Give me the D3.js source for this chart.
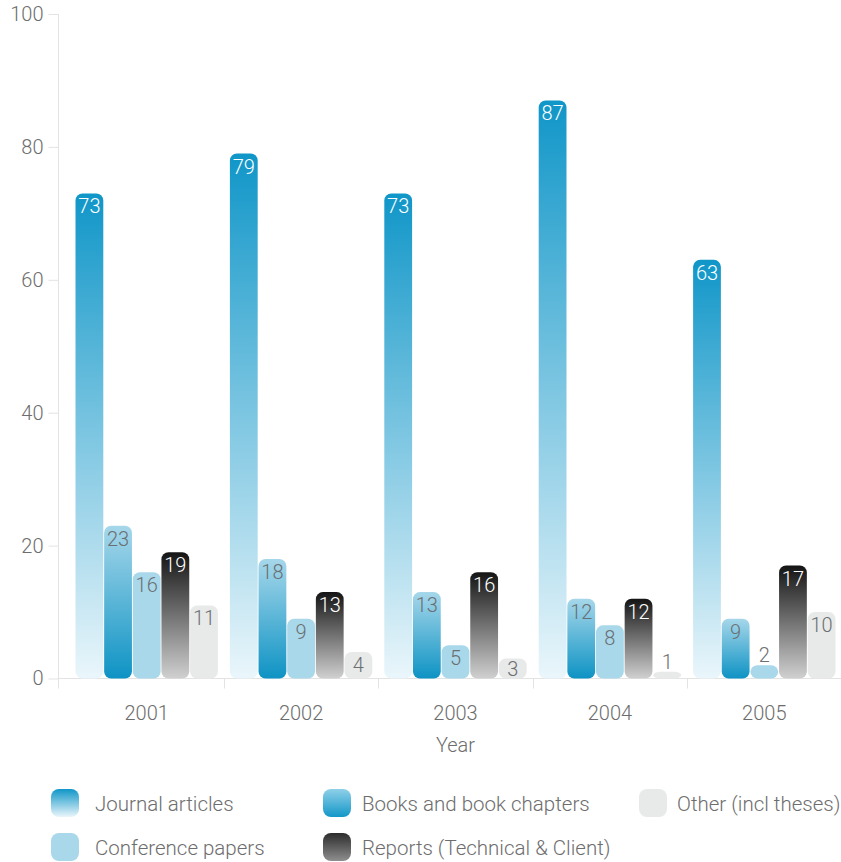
<!DOCTYPE html>
<html>
<head>
<meta charset="utf-8">
<script src="https://cdn.jsdelivr.net/npm/d3@7"></script>
<style>
  body { margin: 0; background: #fff; }
  svg text { font-family: Roboto, "Liberation Sans", sans-serif; font-weight: 300; }
</style>
</head>
<body>
<svg id="chart" width="841" height="862"></svg>
<script>
const years = ['2001', '2002', '2003', '2004', '2005'];
const seriesNames = ['Journal articles', 'Books and book chapters', 'Conference papers',
  'Reports (Technical & Client)', 'Other (incl theses)'];
const journal = [73, 79, 73, 87, 63];
const books = [23, 18, 13, 12, 9];
const conference = [16, 9, 5, 8, 2];
const reports = [19, 13, 16, 12, 17];
const other = [11, 4, 3, 1, 10];
const yTicks = [0, 20, 40, 60, 80, 100];

const seriesValues = [journal, books, conference, reports, other];
const keys = ['journal', 'books', 'conference', 'reports', 'other'];

// fill per series: gradient stops (top -> bottom)
const fills = {
  journal: ['#1096c8', '#eaf6fb'],
  books: ['#a6d7ea', '#0e93c4'],
  conference: ['#a8d8ea', '#a8d8ea'],
  reports: ['#141414', '#d0d0d0'],
  other: ['#e8e9e9', '#e8e9e9']
};
const labelColor = { journal: '#fff', books: '#6b6f72', conference: '#6b6f72', reports: '#fff', other: '#6b6f72' };

const svg = d3.select('#chart');
const margin = { left: 58.5, top: 14, base: 678.5 };

const defs = svg.append('defs');
function addGradient(id, stops) {
  const g = defs.append('linearGradient').attr('id', id)
    .attr('x1', 0).attr('y1', 0).attr('x2', 0).attr('y2', 1);
  g.append('stop').attr('offset', '0%').attr('stop-color', stops[0]);
  g.append('stop').attr('offset', '100%').attr('stop-color', stops[1]);
}
keys.forEach(k => addGradient('grad-' + k, fills[k]));
addGradient('grad-legend-reports', ['#2c2c2c', '#8e8e8e']);
addGradient('grad-legend-books', ['#8fd0e8', '#1397c8']);

const x0 = d3.scaleBand().domain(years).range([69.5, 841.5]);
const x1 = d3.scaleBand().domain(keys).range([6, x0.bandwidth() - 6]).paddingInner(0.03);
const y = d3.scaleLinear().domain([0, 100]).range([margin.base, margin.top]);

// y axis
const yAxis = svg.append('g')
  .attr('transform', `translate(${margin.left},0)`)
  .call(d3.axisLeft(y).tickValues(yTicks).tickSize(10).tickPadding(5).tickSizeOuter(0));
yAxis.select('.domain').remove();
yAxis.selectAll('line').attr('stroke', '#e3e3e3');
yAxis.selectAll('text').attr('fill', '#6d6d6d').style('font-size', '20px');
svg.append('line')
  .attr('x1', margin.left).attr('x2', margin.left)
  .attr('y1', y(100)).attr('y2', margin.base + 10)
  .attr('stroke', '#e3e3e3');

// x axis
svg.append('line')
  .attr('x1', margin.left).attr('x2', 841)
  .attr('y1', margin.base).attr('y2', margin.base)
  .attr('stroke', '#e3e3e3');
svg.selectAll('.sep').data(years.slice(1)).enter().append('line')
  .attr('x1', d => Math.round(x0(d)) + 0.5).attr('x2', d => Math.round(x0(d)) + 0.5)
  .attr('y1', margin.base).attr('y2', margin.base + 10)
  .attr('stroke', '#e3e3e3');
const xAxis = svg.append('g')
  .attr('transform', `translate(0,${margin.base})`)
  .call(d3.axisBottom(x0).tickSize(0).tickPadding(0));
xAxis.select('.domain').remove();
xAxis.selectAll('text').attr('dy', null).attr('y', 41)
  .attr('fill', '#6d6d6d').style('font-size', '20px');

svg.append('text')
  .attr('x', (x0.range()[0] + x0.range()[1]) / 2).attr('y', 752)
  .attr('text-anchor', 'middle').attr('fill', '#6d6d6d')
  .style('font-size', '20px').text('Year');

// bars
const groups = svg.selectAll('.year').data(years).enter().append('g')
  .attr('transform', d => `translate(${x0(d)},0)`);

groups.each(function (yr, i) {
  const g = d3.select(this);
  const items = keys.map((k, s) => ({ key: k, value: seriesValues[s][i] }));
  g.selectAll('rect').data(items).enter().append('rect')
    .attr('x', d => x1(d.key))
    .attr('width', x1.bandwidth())
    .attr('y', d => y(d.value))
    .attr('height', d => y(0) - y(d.value))
    .attr('rx', 7).attr('ry', 7)
    .attr('fill', d => `url(#grad-${d.key})`);

  g.selectAll('text.val').data(items).enter().append('text')
    .attr('class', 'val')
    .attr('x', d => x1(d.key) + x1.bandwidth() / 2)
    .attr('y', d => {
      const top = y(d.value), h = y(0) - top;
      return h >= 18 ? Math.min(top + 20, margin.base - 3) : top - 3;
    })
    .attr('text-anchor', 'middle')
    .attr('fill', d => {
      const h = y(0) - y(d.value);
      return h >= 18 ? labelColor[d.key] : '#6b6f72';
    })
    .style('font-size', '20px')
    .text(d => d.value);
});

// legend
const legendPos = [
  { key: 'journal', x: 51, tx: 95, y: 803, fill: 'grad-journal' },
  { key: 'books', x: 323, tx: 362, y: 803, fill: 'grad-legend-books' },
  { key: 'other', x: 639, tx: 677, y: 803, fill: 'grad-other' },
  { key: 'conference', x: 51, tx: 95, y: 847, fill: 'grad-conference' },
  { key: 'reports', x: 323, tx: 362, y: 847, fill: 'grad-legend-reports' }
];
const legend = svg.selectAll('.legend').data(legendPos).enter().append('g')
  .attr('transform', d => `translate(0,${d.y})`);
legend.append('rect')
  .attr('x', d => d.x).attr('y', -14).attr('width', 28).attr('height', 28)
  .attr('rx', 8).attr('ry', 8)
  .attr('fill', d => `url(#${d.fill})`);
legend.append('text')
  .attr('x', d => d.tx).attr('y', 8)
  .attr('fill', '#6d6d6d').style('font-size', '20.5px')
  .text(d => seriesNames[keys.indexOf(d.key)]);
</script>
</body>
</html>
